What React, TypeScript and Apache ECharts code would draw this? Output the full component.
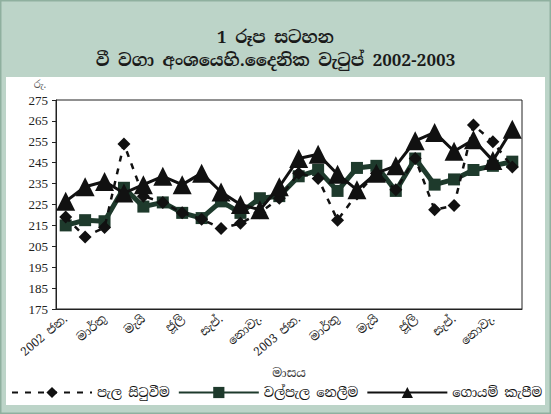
import React, { useEffect, useRef } from "react";
import * as echarts from "echarts";

const months = [
  "2002 ජන.", "පෙබ.", "මාර්තු", "අප්‍රේල්", "මැයි", "ජූනි", "ජූලි", "අගෝ.", "සැප්.", "ඔක්.", "නොවැ.", "දෙසැ.",
  "2003 ජන.", "පෙබ.", "මාර්තු", "අප්‍රේල්", "මැයි", "ජූනි", "ජූලි", "අගෝ.", "සැප්.", "ඔක්.", "නොවැ.", "දෙසැ.",
];

const seriesNames = ["පැල සිටුවීම", "වල්පැල නෙලීම", "ගොයම් කැපීම"];

const plantingValues = [219, 209.5, 214, 254, 229, 226, 221, 218, 213.5, 216, 221, 228, 240, 237.5, 217.5, 230, 240, 232, 247, 222.5, 224.5, 263, 255, 243];
const weedingValues = [215, 217.5, 217, 233, 224, 226, 221, 218.5, 226.5, 221, 228, 229, 238.5, 241.5, 231.5, 242.5, 243.5, 231.5, 247, 234.5, 237, 241.5, 243.5, 245.5];
const harvestingValues = [226.5, 233.5, 236, 230.5, 234.5, 238.5, 234.5, 240, 231, 225, 222.5, 233.5, 247, 249, 239.5, 232, 240, 243.5, 255.5, 259.5, 250.5, 256, 246, 261];

const titleLines = ["1 රූප සටහන", "වී වගා අංශයෙහි.දෛනික වැටුප් 2002-2003"];
const yUnit = "රු.";
const xName = "මාසය";

const FONT = '"Noto Serif Sinhala", "Noto Sans Sinhala", "Liberation Serif", "DejaVu Serif", serif';

export default function App() {
  const ref = useRef<HTMLDivElement>(null);
  useEffect(() => {
    document.body.style.margin = "0";
    const chart = echarts.init(ref.current!, null, { renderer: "svg" });
    chart.setOption({
      animation: false,
      backgroundColor: "#bcd4c8",
      textStyle: { fontFamily: FONT },
      graphic: [
        { type: "rect", z: -10, shape: { x: 0.5, y: 0.5, width: 550, height: 413 }, style: { fill: "none", stroke: "#8fb09f", lineWidth: 2 } },
        { type: "rect", z: -10, shape: { x: 6, y: 77, width: 539, height: 328 }, style: { fill: "#ffffff" } },
        { type: "text", x: 40, y: 79, style: { text: yUnit, fill: "#555", fontSize: 10, fontFamily: FONT, textAlign: "center" } },
      ],
      title: {
        text: titleLines.join("\n"),
        left: "center",
        top: 20,
        textStyle: { fontFamily: FONT, fontSize: 17, fontWeight: "bold", color: "#1a1a1a", lineHeight: 23 },
      },
      grid: { left: 56, right: 29, top: 100, bottom: 105, show: true, borderColor: "#222", borderWidth: 1, backgroundColor: "transparent" },
      xAxis: {
        type: "category",
        data: months,
        boundaryGap: true,
        name: xName,
        nameLocation: "middle",
        nameGap: 58,
        nameTextStyle: { fontFamily: FONT, fontSize: 12, color: "#333" },
        axisLine: { lineStyle: { color: "#222" } },
        axisTick: { interval: 0, length: 4, lineStyle: { color: "#222" } },
        axisLabel: { interval: 1, rotate: 40, fontFamily: FONT, fontSize: 12, color: "#222", margin: 8 },
      },
      yAxis: {
        type: "value",
        min: 175,
        max: 275,
        interval: 10,
        splitLine: { show: false },
        axisLine: { show: true, lineStyle: { color: "#222" } },
        axisTick: { show: true, length: 4, lineStyle: { color: "#222" } },
        axisLabel: { fontFamily: '"Liberation Serif", serif', fontSize: 13, color: "#222", margin: 8 },
      },
      legend: {
        left: 6,
        bottom: 10,
        itemWidth: 80,
        itemHeight: 14,
        itemGap: 8,
        textStyle: { fontFamily: FONT, fontSize: 13, color: "#111" },
        data: seriesNames,
      },
      series: [
        {
          name: seriesNames[0],
          type: "line",
          data: plantingValues,
          symbol: "diamond",
          symbolSize: 13,
          showSymbol: true,
          showAllSymbol: true,
          itemStyle: { color: "#111" },
          lineStyle: { color: "#111", width: 2.5, type: [6, 7] },
          z: 3,
        },
        {
          name: seriesNames[1],
          type: "line",
          data: weedingValues,
          symbol: "rect",
          symbolSize: 12,
          showSymbol: true,
          showAllSymbol: true,
          itemStyle: { color: "#1e3a2c" },
          lineStyle: { color: "#1e3a2c", width: 5 },
          z: 2,
        },
        {
          name: seriesNames[2],
          type: "line",
          data: harvestingValues,
          symbol: "triangle",
          symbolSize: 19,
          showSymbol: true,
          showAllSymbol: true,
          itemStyle: { color: "#111" },
          lineStyle: { color: "#111", width: 3 },
          z: 4,
        },
      ],
    });
    return () => chart.dispose();
  }, []);
  return <div ref={ref} style={{ width: 551, height: 414 }} />;
}
